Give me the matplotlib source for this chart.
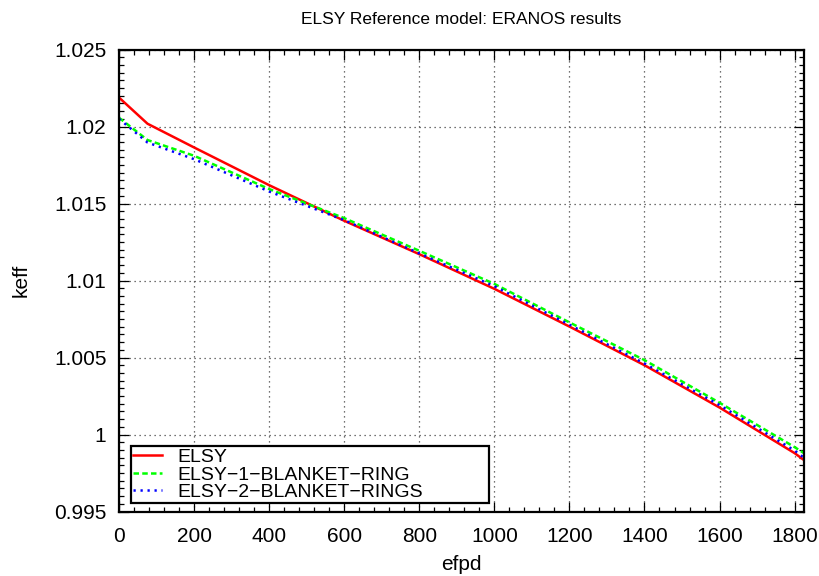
import matplotlib
matplotlib.use("Agg")
import matplotlib.pyplot as plt
from matplotlib.ticker import MultipleLocator

plt.rcParams['font.family'] = ['Liberation Sans', 'DejaVu Sans']

# Burnup (effective full power days) and k-effective for the three core variants
days = [0, 76, 200, 400, 600, 800, 1000, 1200, 1400, 1600, 1800, 1825]
keff_elsy = [1.02188, 1.02018, 1.01864, 1.01619, 1.01388, 1.01171, 1.00946,
             1.00701, 1.00450, 1.00175, 0.99879, 0.99834]
keff_1ring = [1.02057, 1.01912, 1.01810, 1.01594, 1.01405, 1.01193, 1.00978,
              1.00728, 1.00483, 1.00206, 0.99918, 0.99879]
keff_2rings = [1.02050, 1.01896, 1.01788, 1.01578, 1.01392, 1.01176, 1.00963,
               1.00713, 1.00461, 1.00191, 0.99896, 0.99849]
series_names = ["ELSY", "ELSY\u22121\u2212BLANKET\u2212RING", "ELSY\u22122\u2212BLANKET\u2212RINGS"]

x_ticks = [0, 200, 400, 600, 800, 1000, 1200, 1400, 1600, 1800]
y_ticks = [0.995, 1.0, 1.005, 1.01, 1.015, 1.02, 1.025]
y_tick_labels = ["0.995", "1", "1.005", "1.01", "1.015", "1.02", "1.025"]

fig = plt.figure(figsize=(8.2, 5.76), dpi=100)
ax = fig.add_axes([119 / 820, 1 - 511.5 / 576, 685 / 820, 462 / 576])

ax.plot(days, keff_elsy, color=(1, 0, 0), lw=1.8, label=series_names[0])
ax.plot(days, keff_1ring, color=(0, 1, 0), lw=1.8, dashes=(2.2, 1.3), label=series_names[1])
ax.plot(days, keff_2rings, color=(0, 0, 1), lw=1.8, dashes=(0.9, 1.9), label=series_names[2])

ax.set_xlim(0, 1825)
ax.set_ylim(0.995, 1.025)
ax.set_xticks(x_ticks)
ax.set_yticks(y_ticks)
ax.set_yticklabels(y_tick_labels)
ax.xaxis.set_minor_locator(MultipleLocator(40))
ax.yaxis.set_minor_locator(MultipleLocator(0.0005))
ax.tick_params(which='both', direction='in', top=True, right=True, labelsize=15)
ax.tick_params(axis='x', pad=11)
ax.tick_params(axis='y', pad=9)
ax.tick_params(which='major', length=7, width=0.9)
ax.tick_params(which='minor', length=3.5, width=0.9)
ax.grid(True, which='major', color='#444444', linestyle=(0, (1, 3)), linewidth=0.9)
for s in ax.spines.values():
    s.set_linewidth(1.6)
    s.set_color('black')

ax.set_xlabel("efpd", fontsize=15, labelpad=7)
ax.set_ylabel("keff", fontsize=15, labelpad=17)
ax.set_title("ELSY Reference model: ERANOS results", fontsize=12.5, pad=18)

leg = ax.legend(loc='lower left', bbox_to_anchor=(0.0175, 0.018, 0.5226, 0.2),
                mode='expand', fontsize=14, frameon=True, fancybox=False,
                edgecolor='black', framealpha=1, borderpad=0.1, labelspacing=0.0,
                handlelength=1.5, handletextpad=0.8, borderaxespad=0.0)
leg.get_frame().set_linewidth(1.6)

fig.savefig("out.png", dpi=100)
